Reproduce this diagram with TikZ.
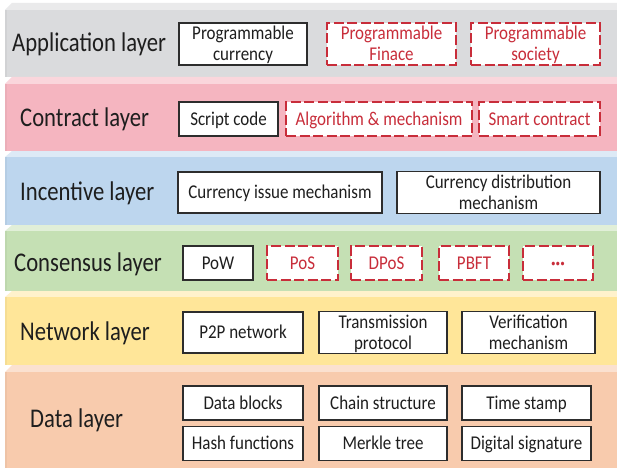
\documentclass[tikz,border=0pt]{standalone}
\usepackage{fontspec}
\setmainfont{Carlito}
\definecolor{appF}{RGB}{218,219,221}
\definecolor{appT}{RGB}{234,234,235}
\definecolor{conF}{RGB}{245,181,192}
\definecolor{conT}{RGB}{250,214,220}
\definecolor{incF}{RGB}{189,214,238}
\definecolor{incT}{RGB}{221,234,246}
\definecolor{cnsF}{RGB}{197,224,180}
\definecolor{cnsT}{RGB}{225,239,216}
\definecolor{netF}{RGB}{255,230,153}
\definecolor{netT}{RGB}{255,242,204}
\definecolor{datF}{RGB}{248,203,173}
\definecolor{datT}{RGB}{251,225,208}
\definecolor{redline}{RGB}{200,45,58}
\definecolor{boxline}{RGB}{45,45,45}
\definecolor{txt}{RGB}{30,30,30}
\newcommand{\bt}[1]{\raisebox{-2pt}[\height][\depth]{\scalebox{0.87}[1]{\begin{tabular}{@{}c@{}}#1\end{tabular}}}}
\newcommand{\lt}[1]{\scalebox{0.84}[1]{#1}}
\begin{document}
\begin{tikzpicture}[x=1pt,y=-1pt,
  layerlabel/.style={anchor=west,inner sep=0pt,text=txt,font=\fontsize{27}{30}\selectfont},
  solidbox/.style={draw=boxline,line width=1.3pt,fill=white,text=txt,align=center,inner sep=0pt,font=\fontsize{19.5}{21}\selectfont},
  dashbox/.style={draw=redline,line width=1.6pt,dash pattern=on 10pt off 3.5pt,fill=white,text=redline,align=center,inner sep=0pt,font=\fontsize{19.5}{21}\selectfont}]
\useasboundingbox (0,0) rectangle (617,468);
\fill[white] (0,0) rectangle (617,468);
% layers: top face then front
\newcommand{\slab}[5]{% #1 top of face, #2 front top, #3 front bottom, #4 face colour, #5 front colour
  \fill[#4] (5,#2) -- (12,#1) -- (617,#1) -- (617,#2) -- cycle;
  \fill[#5] (5,#2) rectangle (617,#3);
  \fill[#5!85!black,opacity=0.25] (5,#2) rectangle (7,#3);}
\slab{3}{10}{77}{appT}{appF}
\slab{77}{84}{151}{conT}{conF}
\slab{151}{157}{225}{incT}{incF}
\slab{225}{231}{291}{cnsT}{cnsF}
\slab{291}{297}{365}{netT}{netF}
\slab{365}{372}{468}{datT}{datF}
% labels
\node[layerlabel] (lapp) at (12,44) {\lt{Application layer}};
\node[layerlabel] (lcon) at (20,119) {\lt{Contract layer}};
\node[layerlabel] (linc) at (20,193) {\lt{Incentive layer}};
\node[layerlabel] (lcns) at (14,264) {\lt{Consensus layer}};
\node[layerlabel] (lnet) at (20,333) {\lt{Network layer}};
\node[layerlabel] (ldat) at (30,420) {\lt{Data layer}};
% application
\node[solidbox,minimum width=128pt,minimum height=42pt] (pc) at (243,44) {\bt{Programmable\\currency}};
\node[dashbox,minimum width=129pt,minimum height=42pt] (pf) at (391.5,44) {\bt{Programmable\\Finace}};
\node[dashbox,minimum width=129pt,minimum height=42pt] (ps) at (535.5,44) {\bt{Programmable\\society}};
% contract
\node[solidbox,minimum width=99pt,minimum height=34pt] (sc) at (228.5,119) {\bt{Script code}};
\node[dashbox,minimum width=186pt,minimum height=34pt] (am) at (379,119) {\bt{Algorithm \& mechanism}};
\node[dashbox,minimum width=121pt,minimum height=34pt] (smc) at (539.5,119) {\bt{Smart contract}};
% incentive
\node[solidbox,minimum width=204pt,minimum height=41pt] (cim) at (280,192.5) {\bt{Currency issue mechanism}};
\node[solidbox,minimum width=203pt,minimum height=41pt] (cdm) at (498.5,192.5) {\bt{Currency distribution\\mechanism}};
% consensus
\node[solidbox,minimum width=70pt,minimum height=34pt] (pow) at (218,263) {\bt{PoW}};
\node[dashbox,minimum width=71pt,minimum height=34pt] (pos) at (302.5,263) {\bt{PoS}};
\node[dashbox,minimum width=71pt,minimum height=34pt] (dpos) at (386.5,263) {\bt{DPoS}};
\node[dashbox,minimum width=70pt,minimum height=34pt] (pbft) at (474,263) {\bt{PBFT}};
\node[dashbox,minimum width=70pt,minimum height=34pt] (dots) at (558,263) {\bt{\textbf{···}}};
% network
\node[solidbox,minimum width=120pt,minimum height=41pt] (p2p) at (243,332.5) {\bt{P2P network}};
\node[solidbox,minimum width=128pt,minimum height=41pt] (tp) at (383,332.5) {\bt{Transmission\\protocol}};
\node[solidbox,minimum width=133pt,minimum height=41pt] (vm) at (528.5,332.5) {\bt{Verification\\mechanism}};
% data
\node[solidbox,minimum width=120pt,minimum height=34pt] (db) at (243,403) {\bt{Data blocks}};
\node[solidbox,minimum width=128pt,minimum height=34pt] (cs) at (383,403) {\bt{Chain structure}};
\node[solidbox,minimum width=129pt,minimum height=34pt] (ts) at (526.5,403) {\bt{Time stamp}};
\node[solidbox,minimum width=120pt,minimum height=34pt] (hf) at (243,443.5) {\bt{Hash functions}};
\node[solidbox,minimum width=128pt,minimum height=34pt] (mt) at (383,443.5) {\bt{Merkle tree}};
\node[solidbox,minimum width=129pt,minimum height=34pt] (ds) at (526.5,443.5) {\bt{Digital signature}};
\end{tikzpicture}
\end{document}
